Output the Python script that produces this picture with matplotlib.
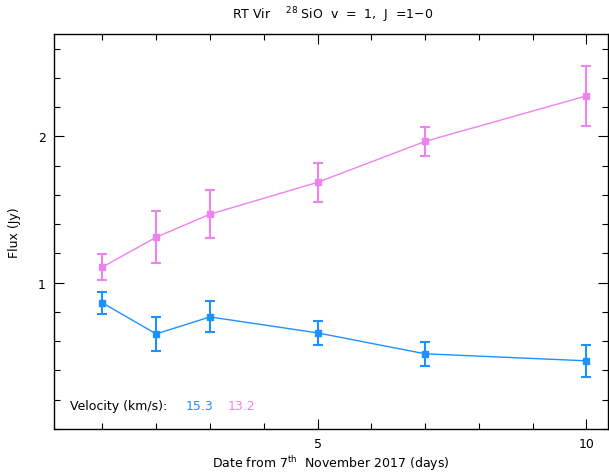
import matplotlib
matplotlib.use("Agg")
import matplotlib.pyplot as plt
from matplotlib.ticker import MultipleLocator, FixedLocator

days = [1, 2, 3, 5, 7, 10]
flux_153 = [0.862, 0.650, 0.766, 0.657, 0.514, 0.466]
err_153 = [0.073, 0.118, 0.106, 0.080, 0.083, 0.110]
flux_132 = [1.107, 1.311, 1.468, 1.686, 1.966, 2.277]
err_132 = [0.088, 0.178, 0.164, 0.134, 0.100, 0.207]
velocities = ["15.3", "13.2"]

blue = "#1E90FF"
pink = "#EE82EE"

plt.rcParams['font.family'] = ['DejaVu Sans']
fig = plt.figure(figsize=(6.09, 4.77), dpi=100)
ax = fig.add_axes([54/609, 1 - 430/477, (608-54)/609, (430-35)/477])

for y, e, c in [(flux_153, err_153, blue), (flux_132, err_132, pink)]:
    ax.errorbar(days, y, yerr=e, color=c, lw=1.0, marker='s', ms=4.5,
                ecolor=c, elinewidth=1.5, capsize=3.5, capthick=1.5)

ax.set_xlim(0.1, 10.4)
ax.set_ylim(0, 2.7)
ax.xaxis.set_major_locator(FixedLocator([5, 10]))
ax.xaxis.set_minor_locator(MultipleLocator(1))
ax.yaxis.set_major_locator(FixedLocator([1, 2]))
ax.yaxis.set_minor_locator(MultipleLocator(0.2))
ax.tick_params(which='both', direction='in', top=True, right=True, labelsize=9, pad=6)
ax.tick_params(which='major', length=7, width=0.8)
ax.tick_params(which='minor', length=4, width=0.8)
for s in ax.spines.values():
    s.set_linewidth(1.0)
ax.set_yticklabels(["1", "2"])
ax.set_xticklabels(["5", "10"])

fig.text(333/609, 1 - 15/477, r"RT Vir    $^{28}$ SiO  v  =  1,  J  =1$-$0",
         ha='center', va='center', fontsize=9)
ax.set_xlabel(r"Date from 7$^{\mathrm{th}}$  November 2017 (days)", fontsize=9, labelpad=2)
ax.set_ylabel("Flux (Jy)", fontsize=9, labelpad=12)

ax.text((70-54)/554, 0.059, "Velocity (km/s):", transform=ax.transAxes,
        fontsize=9, ha='left', va='center')
ax.text((186-54)/554, 0.059, velocities[0], transform=ax.transAxes, color=blue,
        fontsize=9, ha='left', va='center')
ax.text((228-54)/554, 0.059, velocities[1], transform=ax.transAxes, color=pink,
        fontsize=9, ha='left', va='center')

fig.savefig("out.png", dpi=100)
